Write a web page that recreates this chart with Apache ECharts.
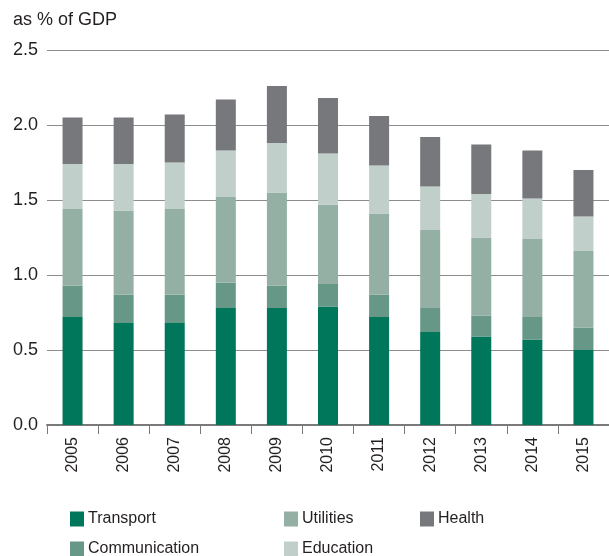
<!DOCTYPE html>
<html>
<head>
<meta charset="utf-8">
<script src="https://cdn.jsdelivr.net/npm/echarts@6/dist/echarts.min.js"></script>
<style>
  html, body { margin: 0; padding: 0; background: #fff; }
  #chart { width: 609px; height: 556px; }
</style>
</head>
<body>
<div id="chart"></div>
<script>
// Public investment by sector, as % of GDP (stacked)
const years = ['2005', '2006', '2007', '2008', '2009', '2010', '2011', '2012', '2013', '2014', '2015'];
const transport     = [0.72, 0.68, 0.68, 0.78, 0.78, 0.79, 0.72, 0.62, 0.59, 0.57, 0.50];
const communication = [0.21, 0.19, 0.19, 0.17, 0.15, 0.15, 0.15, 0.16, 0.14, 0.15, 0.15];
const utilities     = [0.51, 0.56, 0.57, 0.57, 0.62, 0.53, 0.54, 0.52, 0.52, 0.52, 0.51];
const education     = [0.30, 0.31, 0.31, 0.31, 0.33, 0.34, 0.32, 0.29, 0.29, 0.27, 0.23];
const health        = [0.31, 0.31, 0.32, 0.34, 0.38, 0.37, 0.33, 0.33, 0.33, 0.32, 0.31];
const yTicks = [0, 0.5, 1.0, 1.5, 2.0, 2.5];

const FONT = '"Liberation Sans", Arial, Helvetica, sans-serif';
const TEXT = '#231f20';

const seriesDefs = [
  { name: 'Transport',     data: transport,     color: '#00765b' },
  { name: 'Communication', data: communication, color: '#679786' },
  { name: 'Utilities',     data: utilities,     color: '#94afa3' },
  { name: 'Education',     data: education,     color: '#c0cfc9' },
  { name: 'Health',        data: health,        color: '#77787c' }
];

// Legend laid out as three columns
const legendBase = {
  orient: 'vertical',
  padding: 0,
  height: 60,
  itemWidth: 14,
  itemHeight: 15,
  itemGap: 14,
  icon: 'rect',
  textStyle: { fontFamily: FONT, fontSize: 16, color: TEXT, padding: [0, 0, 0, -1] },
  selectedMode: false
};

const chart = echarts.init(document.getElementById('chart'), null, { renderer: 'canvas' });
chart.setOption({
  animation: false,
  backgroundColor: '#ffffff',
  title: {
    text: 'as % of GDP',
    left: 8,
    top: 6,
    textStyle: { fontFamily: FONT, fontSize: 18, fontWeight: 'normal', color: TEXT }
  },
  legend: [
    Object.assign({}, legendBase, { left: 70, top: 511, data: ['Transport', 'Communication'] }),
    Object.assign({}, legendBase, { left: 284, top: 511, data: ['Utilities', 'Education'] }),
    Object.assign({}, legendBase, { left: 420, top: 511, data: ['Health'] })
  ],
  grid: { left: 47, top: 50, width: 565, bottom: 131, containLabel: false },
  xAxis: {
    type: 'category',
    data: years,
    boundaryGap: true,
    axisLine: { show: true, lineStyle: { color: '#7a7a7a', width: 2 } },
    axisTick: { show: true, length: 9, lineStyle: { color: '#7a7a7a', width: 1 } },
    axisLabel: {
      rotate: 90,
      margin: 12,
      fontFamily: FONT,
      fontSize: 16,
      color: TEXT
    }
  },
  yAxis: {
    type: 'value',
    min: yTicks[0],
    max: yTicks[yTicks.length - 1],
    interval: 0.5,
    axisLine: { show: false },
    axisTick: { show: false },
    axisLabel: {
      margin: 9,
      fontFamily: FONT,
      fontSize: 18,
      color: TEXT,
      formatter: v => v.toFixed(1)
    },
    splitLine: { show: true, lineStyle: { color: '#8c8c8c', width: 1 } }
  },
  series: seriesDefs.map(s => ({
    name: s.name,
    type: 'bar',
    stack: 'total',
    barWidth: 20,
    data: s.data,
    itemStyle: { color: s.color },
    emphasis: { disabled: true }
  }))
});
</script>
</body>
</html>
